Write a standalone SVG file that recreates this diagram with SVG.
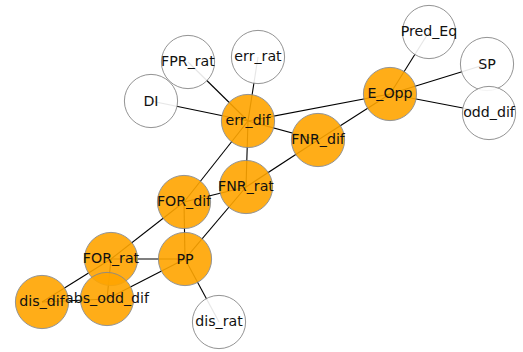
<svg xmlns="http://www.w3.org/2000/svg" width="523" height="352" viewBox="0 0 523 352">
<style>
.e{stroke:#000;stroke-width:1.1;fill:none}
.n circle{stroke:#888;stroke-width:1;opacity:0.9}
.o circle{fill:#FFA500}
.w circle{fill:#fff}
text{font-family:"DejaVu Sans",sans-serif;font-size:14.2px;fill:#111;text-anchor:middle}
</style>
<rect width="523" height="352" fill="#fff"/>
<g id="edges">
<line class="e" x1="248" y1="121" x2="151" y2="101"/>
<line class="e" x1="248" y1="121" x2="188" y2="62"/>
<line class="e" x1="248" y1="121" x2="258" y2="57"/>
<line class="e" x1="248" y1="121" x2="390" y2="94"/>
<line class="e" x1="248" y1="121" x2="318" y2="140"/>
<line class="e" x1="248" y1="121" x2="246" y2="187"/>
<line class="e" x1="248" y1="121" x2="184" y2="202"/>
<line class="e" x1="318" y1="140" x2="390" y2="94"/>
<line class="e" x1="318" y1="140" x2="246" y2="187"/>
<line class="e" x1="390" y1="94" x2="429" y2="32"/>
<line class="e" x1="390" y1="94" x2="487" y2="64"/>
<line class="e" x1="390" y1="94" x2="489" y2="113"/>
<line class="e" x1="246" y1="187" x2="184" y2="202"/>
<line class="e" x1="246" y1="187" x2="185" y2="259"/>
<line class="e" x1="184" y1="202" x2="185" y2="259"/>
<line class="e" x1="184" y1="202" x2="111" y2="259"/>
<line class="e" x1="111" y1="259" x2="185" y2="259"/>
<line class="e" x1="111" y1="259" x2="42" y2="302"/>
<line class="e" x1="111" y1="259" x2="107" y2="299"/>
<line class="e" x1="42" y1="302" x2="107" y2="299"/>
<line class="e" x1="107" y1="299" x2="185" y2="259"/>
<line class="e" x1="185" y1="259" x2="219" y2="322"/>
</g>
<g id="n-err_dif" class="n o"><circle cx="248" cy="121" r="26.6"/></g>
<g id="n-DI" class="n w"><circle cx="151" cy="101" r="26.6"/></g>
<g id="n-FPR_rat" class="n w"><circle cx="188" cy="62" r="26.6"/></g>
<g id="n-err_rat" class="n w"><circle cx="258" cy="57" r="26.6"/></g>
<g id="n-E_Opp" class="n o"><circle cx="390" cy="94" r="26.6"/></g>
<g id="n-FNR_dif" class="n o"><circle cx="318" cy="140" r="26.6"/></g>
<g id="n-FNR_rat" class="n o"><circle cx="246" cy="187" r="26.6"/></g>
<g id="n-FOR_dif" class="n o"><circle cx="184" cy="202" r="26.6"/></g>
<g id="n-Pred_Eq" class="n w"><circle cx="429" cy="32" r="26.6"/></g>
<g id="n-SP" class="n w"><circle cx="487" cy="64" r="26.6"/></g>
<g id="n-odd_dif" class="n w"><circle cx="489" cy="113" r="26.6"/></g>
<g id="n-PP" class="n o"><circle cx="185" cy="259" r="26.6"/></g>
<g id="n-FOR_rat" class="n o"><circle cx="111" cy="259" r="26.6"/></g>
<g id="n-dis_dif" class="n o"><circle cx="42" cy="302" r="26.6"/></g>
<g id="n-abs_odd_dif" class="n o"><circle cx="107" cy="299" r="26.6"/></g>
<g id="n-dis_rat" class="n w"><circle cx="219" cy="322" r="26.6"/></g>
<g id="labels">
<text x="248" y="124.7">err_dif</text>
<text x="151" y="106.2">DI</text>
<text x="188" y="65.6">FPR_rat</text>
<text x="258" y="60.7">err_rat</text>
<text x="390" y="97.6">E_Opp</text>
<text x="318" y="143.6">FNR_dif</text>
<text x="246" y="190.6">FNR_rat</text>
<text x="184" y="205.7">FOR_dif</text>
<text x="429" y="35.6">Pred_Eq</text>
<text x="487" y="69.2">SP</text>
<text x="489" y="116.7">odd_dif</text>
<text x="185" y="264.2">PP</text>
<text x="111" y="262.6">FOR_rat</text>
<text x="42" y="305.7">dis_dif</text>
<text x="107" y="302.7">abs_odd_dif</text>
<text x="219" y="325.7">dis_rat</text>
</g>
</svg>
